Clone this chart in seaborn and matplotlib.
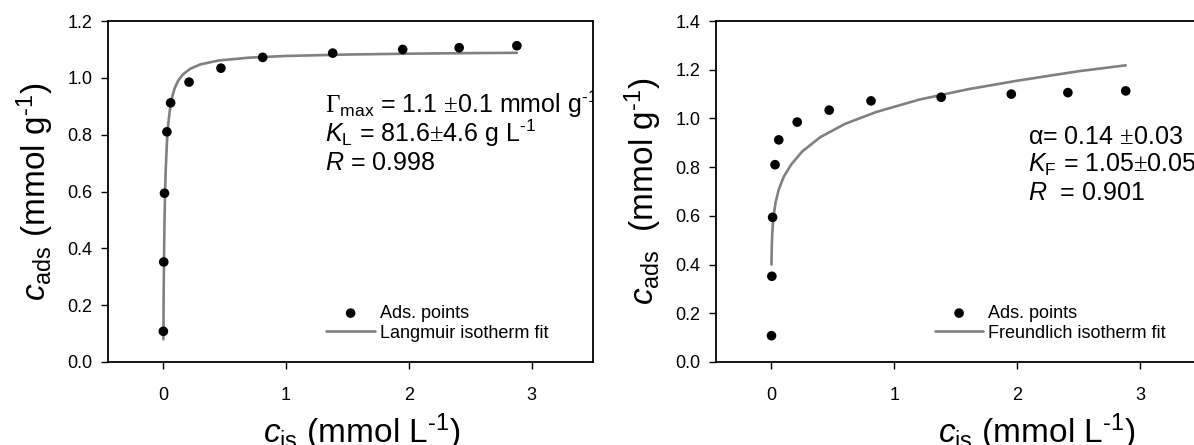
import numpy as np
import pandas as pd
import matplotlib
matplotlib.use("Agg")
import matplotlib.pyplot as plt
import seaborn as sns

# adsorption data points (same in both panels)
c_is = [0.001, 0.004, 0.01, 0.03, 0.06, 0.21, 0.47, 0.81, 1.38, 1.95, 2.41, 2.88]
c_ads = [0.108, 0.352, 0.594, 0.810, 0.912, 0.985, 1.034, 1.072, 1.087, 1.100, 1.106, 1.113]

# Langmuir fit curve
lang_x = [0.001, 0.003, 0.006, 0.010, 0.015, 0.020, 0.030, 0.040, 0.055, 0.070, 0.090,
          0.12, 0.16, 0.22, 0.30, 0.45, 0.70, 1.00, 1.50, 2.00, 2.50, 2.88]
lang_y = [0.08, 0.215, 0.358, 0.49, 0.60, 0.676, 0.774, 0.835, 0.891, 0.928, 0.96,
          0.989, 1.012, 1.032, 1.047, 1.061, 1.071, 1.077, 1.082, 1.085, 1.087, 1.088]

# Freundlich fit curve
freu_x = [0.001, 0.002, 0.004, 0.007, 0.012, 0.02, 0.035, 0.06, 0.10, 0.16, 0.25,
          0.40, 0.60, 0.85, 1.20, 1.60, 2.00, 2.50, 2.88]
freu_y = [0.40, 0.44, 0.485, 0.524, 0.565, 0.607, 0.657, 0.708, 0.76, 0.81, 0.864,
          0.924, 0.978, 1.026, 1.077, 1.12, 1.155, 1.194, 1.218]

HY = "\u2010"  # short hyphen for the -1 exponents
lang_text = [r"$\Gamma_{\mathsf{max}}$ = 1.1 $\pm$0.1 mmol g$^{\mathsf{" + HY + "1}}$",
             r"$K_{\mathsf{L}}$ = 81.6$\pm$4.6 g L$^{\mathsf{" + HY + "1}}$",
             r"$R$ = 0.998"]
freu_text = [r"α= 0.14 $\pm$0.03",
             r"$K_{\mathsf{F}}$ = 1.05$\pm$0.05",
             r"$R$  = 0.901"]

sns.set_style("ticks")
plt.rcParams["font.family"] = ["Liberation Sans", "DejaVu Sans"]
plt.rcParams["mathtext.fontset"] = "custom"
plt.rcParams["mathtext.rm"] = "Liberation Serif"
plt.rcParams["mathtext.sf"] = "Liberation Sans"
plt.rcParams["mathtext.it"] = "Liberation Sans:italic"
for k in ["text.color", "axes.labelcolor", "xtick.color", "ytick.color", "axes.edgecolor"]:
    plt.rcParams[k] = "black"

pts = pd.DataFrame({"x": c_is, "y": c_ads})
lang = pd.DataFrame({"x": lang_x, "y": lang_y})
freu = pd.DataFrame({"x": freu_x, "y": freu_y})

W, H = 1194, 445
fig = plt.figure(figsize=(W / 100, H / 100), dpi=100)
ax1 = fig.add_axes([108 / W, 83 / H, 485 / W, 341 / H])
ax2 = fig.add_axes([716 / W, 83 / H, 486 / W, 341 / H])

ylab_l = r"$c_{\mathsf{ads}}$ (mmol g$^{\mathsf{" + HY + "1}}$)"
ylab_r = r"$c_{\mathsf{ads}}$  (mmol g$^{\mathsf{" + HY + "1}}$)"
xlab = r"$c_{\mathsf{is}}$ (mmol L$^{\mathsf{" + HY + "1}}$)"

panels = [
    (ax1, lang, "Langmuir isotherm fit", 1.2, lang_text, 0.447, [0.730, 0.645, 0.563], ylab_l, 0.524),
    (ax2, freu, "Freundlich isotherm fit", 1.4, freu_text, 0.642, [0.639, 0.557, 0.475], ylab_r, 0.66),
]

for ax, fit, fit_name, ymax, txt, tx, ty, ylab, xlab_pos in panels:
    sns.lineplot(data=fit, x="x", y="y", ax=ax, color="#808080", lw=1.9,
                 label=fit_name, zorder=2)
    sns.scatterplot(data=pts, x="x", y="y", ax=ax, color="black", s=48,
                    edgecolor="none", label="Ads. points", zorder=3)
    ax.set_xlim(-0.45, 3.5)
    ax.set_ylim(0, ymax)
    ax.set_xticks([0, 1, 2, 3])
    ax.set_yticks(np.arange(0, ymax + 0.01, 0.2))
    ax.yaxis.set_major_formatter(matplotlib.ticker.FormatStrFormatter("%.1f"))
    ax.tick_params(labelsize=13, length=5, width=1, pad=6, color="black")
    ax.tick_params(axis="x", pad=13)
    for s in ax.spines.values():
        s.set_linewidth(1.3)
        s.set_color("black")
    ax.set_xlabel(xlab, fontsize=24)
    ax.xaxis.set_label_coords(xlab_pos, -0.145)
    ax.set_ylabel(ylab, fontsize=24, labelpad=8)
    for line, yy in zip(txt, ty):
        ax.text(tx, yy, line, transform=ax.transAxes, fontsize=18,
                va="baseline", ha="left", clip_on=True)
    h, l = ax.get_legend_handles_labels()
    ax.legend(h[::-1], l[::-1], loc="lower left", bbox_to_anchor=(0.45, 0.06),
              frameon=False, fontsize=13, handlelength=2.7, handletextpad=0.25,
              labelspacing=0.15, borderpad=0, borderaxespad=0)

fig.savefig("out.png", dpi=100)
